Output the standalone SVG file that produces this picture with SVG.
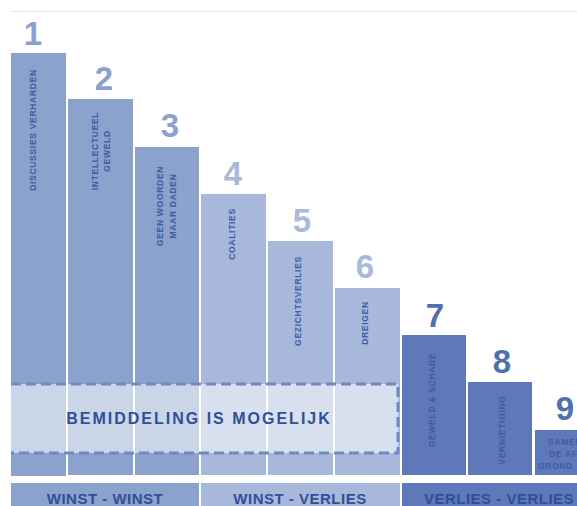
<svg xmlns="http://www.w3.org/2000/svg" width="577" height="506" viewBox="0 0 577 506">
<style>
.b1{fill:#8ba2cd}.b2{fill:#a8b8da}.b3{fill:#5d79b9}
.n{font-family:"Liberation Sans",Arial,sans-serif;font-weight:bold;font-size:33px;text-anchor:middle}
.n1{fill:#8ba2cd}.n2{fill:#a9b9da}.n3{fill:#5070b0}
.l{font-family:"Liberation Sans",Arial,sans-serif;font-weight:bold;font-size:8.5px;fill:#3c5ca6;text-anchor:middle;letter-spacing:0.7px}
.f{font-family:"Liberation Sans",Arial,sans-serif;font-weight:bold;font-size:15px;fill:#2f4f99;text-anchor:middle;letter-spacing:0.5px}
</style>
<rect width="577" height="506" fill="#fff"/>
<line x1="11" y1="11.5" x2="577" y2="11.5" stroke="#e6e9f1" stroke-width="1"/>
<g id="bar1"><rect class="b1" x="11" y="53" width="55" height="423"/><text class="n n1" x="33" y="45">1</text><text class="l" transform="translate(36,130) rotate(-90)">DISCUSSIES VERHARDEN</text></g>
<g id="bar2"><rect class="b1" x="68" y="99" width="65" height="376"/><text class="n n1" x="104" y="90">2</text><text class="l" transform="translate(98,151) rotate(-90)">INTELLECTUEEL</text><text class="l" transform="translate(110,151) rotate(-90)">GEWELD</text></g>
<g id="bar3"><rect class="b1" x="135" y="147" width="64" height="328"/><text class="n n1" x="170" y="137">3</text><text class="l" transform="translate(163,206) rotate(-90)">GEEN WOORDEN</text><text class="l" transform="translate(176,206) rotate(-90)">MAAR DADEN</text></g>
<g id="bar4"><rect class="b2" x="201" y="194" width="65" height="281"/><text class="n n2" x="233" y="185">4</text><text class="l" transform="translate(235,234) rotate(-90)">COALITIES</text></g>
<g id="bar5"><rect class="b2" x="268" y="241" width="65" height="234"/><text class="n n2" x="302" y="232">5</text><text class="l" transform="translate(301,301) rotate(-90)">GEZICHTSVERLIES</text></g>
<g id="bar6"><rect class="b2" x="335" y="288" width="65" height="187"/><text class="n n2" x="365" y="278">6</text><text class="l" transform="translate(368,323) rotate(-90)">DREIGEN</text></g>
<g id="bar7"><rect class="b3" x="402" y="335" width="64" height="140"/><text class="n n3" x="435" y="327">7</text><text class="l" transform="translate(435,400) rotate(-90)">GEWELD &amp; SCHADE</text></g>
<g id="bar8"><rect class="b3" x="468" y="382" width="64" height="93"/><text class="n n3" x="502" y="373">8</text><text class="l" transform="translate(505,430) rotate(-90)">VERNIETIGING</text></g>
<g id="bar9"><rect class="b3" x="535" y="430" width="42" height="45"/><text class="n n3" x="565" y="420">9</text><text class="l" style="text-anchor:start" x="548" y="445">SAMEN</text><text class="l" style="text-anchor:start" x="549" y="457">DE AF</text><text class="l" style="text-anchor:start" x="538" y="469">GROND</text></g>
<g id="mediation">
<rect x="11" y="384" width="387" height="69" fill="#fff" fill-opacity="0.55"/>
<path d="M11 384H398V453H11" fill="none" stroke="#7189c1" stroke-width="3" stroke-dasharray="10 5"/>
<text class="f" x="199" y="424" style="font-size:16px;letter-spacing:2px">BEMIDDELING IS MOGELIJK</text>
</g>
<g id="footer">
<rect class="b1" x="11" y="483" width="188" height="23"/>
<rect class="b2" x="201" y="483" width="199" height="23"/>
<rect class="b3" x="402" y="483" width="175" height="23"/>
<text class="f" x="105" y="504">WINST - WINST</text>
<text class="f" x="300" y="504">WINST - VERLIES</text>
<text class="f" x="499" y="504">VERLIES - VERLIES</text>
</g>
</svg>
